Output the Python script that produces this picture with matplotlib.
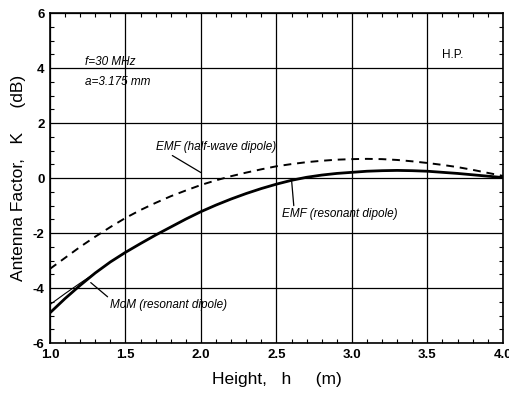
import matplotlib
matplotlib.use("Agg")
import matplotlib.pyplot as plt
from matplotlib.ticker import MultipleLocator, FuncFormatter

plt.rcParams['font.family'] = ['Liberation Sans', 'DejaVu Sans']

# height (m)
h = [1.0, 1.1, 1.2, 1.3, 1.4, 1.5, 1.6, 1.7, 1.8, 1.9, 2.0,
     2.1, 2.2, 2.3, 2.4, 2.5, 2.6, 2.7, 2.8, 2.9, 3.0,
     3.1, 3.2, 3.3, 3.4, 3.5, 3.6, 3.7, 3.8, 3.9, 4.0]
# EMF, resonant dipole
emf_res = [-4.9, -4.38, -3.9, -3.45, -3.05, -2.7, -2.38, -2.07, -1.78, -1.49, -1.22,
           -0.98, -0.76, -0.56, -0.38, -0.22, -0.08, 0.03, 0.11, 0.17, 0.21,
           0.25, 0.27, 0.28, 0.27, 0.25, 0.21, 0.17, 0.12, 0.07, 0.02]
# MoM, resonant dipole
mom_res = [-4.6, -4.2, -3.82, -3.45, -3.05, -2.7, -2.38, -2.07, -1.78, -1.49, -1.22,
           -0.98, -0.76, -0.56, -0.38, -0.22, -0.08, 0.03, 0.11, 0.17, 0.21,
           0.25, 0.27, 0.28, 0.27, 0.25, 0.21, 0.17, 0.12, 0.07, 0.02]
# EMF, half-wave dipole
emf_hw = [-3.3, -2.9, -2.5, -2.13, -1.78, -1.45, -1.16, -0.9, -0.66, -0.45, -0.25,
          -0.08, 0.07, 0.2, 0.32, 0.43, 0.51, 0.58, 0.63, 0.67, 0.69,
          0.7, 0.69, 0.66, 0.61, 0.55, 0.48, 0.4, 0.3, 0.19, 0.08]

fig = plt.figure(figsize=(5.1, 3.98), dpi=100)
ax = fig.add_axes([0.098, 0.138, 0.888, 0.829])

ax.plot(h, mom_res, color='black', lw=0.8)
ax.plot(h, emf_res, color='black', lw=2.0)
ax.plot(h, emf_hw, color='black', lw=1.4, dashes=(4, 3))

ax.set_xlim(1.0, 4.0)
ax.set_ylim(-6, 6)
ax.xaxis.set_major_locator(MultipleLocator(0.5))
ax.xaxis.set_minor_locator(MultipleLocator(0.1))
ax.yaxis.set_major_locator(MultipleLocator(2))
ax.yaxis.set_minor_locator(MultipleLocator(0.5))
ax.xaxis.set_major_formatter(FuncFormatter(lambda v, p: "%.1f" % v))
ax.yaxis.set_major_formatter(FuncFormatter(lambda v, p: "%d" % v))
ax.grid(True, which='major', color='black', lw=0.9)
ax.tick_params(which='both', direction='in', top=True, right=True, labelsize=9.5, pad=4)
ax.tick_params(which='major', length=0)
ax.tick_params(which='minor', length=3, width=0.8)
for lab in ax.get_xticklabels() + ax.get_yticklabels():
    lab.set_fontweight('bold')
for s in ax.spines.values():
    s.set_linewidth(1.2)

ax.set_xlabel("Height,   h     (m)", fontsize=12.5, labelpad=8)
ax.set_ylabel("Antenna Factor,   K     (dB)", fontsize=12.5, labelpad=5)

ax.text(1.23, 4.22, "f=30 MHz", fontsize=8.5, style='italic', va='center')
ax.text(1.23, 3.5, "a=3.175 mm", fontsize=8.5, style='italic', va='center')
ax.text(3.6, 4.47, "H.P.", fontsize=8.5, va='center')

ax.annotate("EMF (half-wave dipole)", xy=(2.0, 0.2), xytext=(1.70, 1.14),
            fontsize=8.5, style='italic', va='center',
            arrowprops=dict(arrowstyle='-', color='black', lw=0.9, shrinkA=0, shrinkB=0,
                            relpos=(0.1, 0.0)))
ax.annotate("EMF (resonant dipole)", xy=(2.6, -0.05), xytext=(2.54, -1.32),
            fontsize=8.5, style='italic', va='center',
            arrowprops=dict(arrowstyle='-', color='black', lw=0.9, shrinkA=0, shrinkB=0,
                            relpos=(0.1, 1.0)))
ax.annotate("MoM (resonant dipole)", xy=(1.27, -3.8), xytext=(1.40, -4.62),
            fontsize=8.5, style='italic', va='center',
            arrowprops=dict(arrowstyle='-', color='black', lw=0.9, shrinkA=0, shrinkB=0,
                            relpos=(0.0, 1.0)))

fig.savefig("out.png", dpi=100)
